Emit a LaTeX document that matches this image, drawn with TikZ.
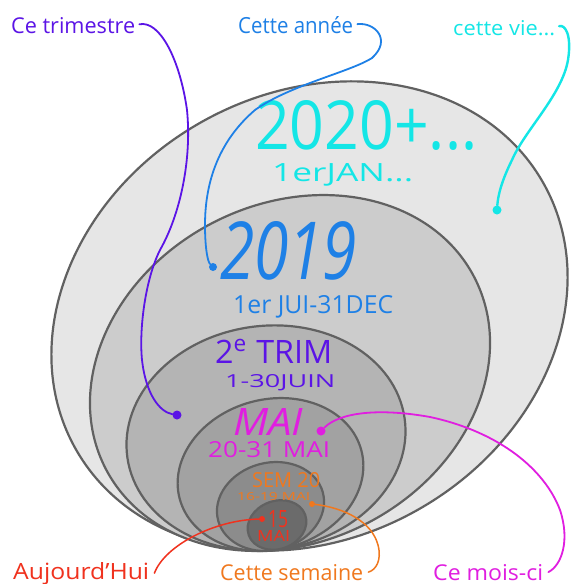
\documentclass[tikz,border=0pt]{standalone}
\usepackage{fontspec}
\setmainfont{Open Sans}
\definecolor{cPur}{HTML}{5B14E6}
\definecolor{cBlu}{HTML}{1E80E6}
\definecolor{cCya}{HTML}{14E6E6}
\definecolor{cMag}{HTML}{E01EE0}
\definecolor{cOra}{HTML}{F0781E}
\definecolor{cRed}{HTML}{F0321E}
\definecolor{cEdge}{HTML}{616161}
\definecolor{gA}{HTML}{E6E6E6}
\definecolor{gB}{HTML}{CCCCCC}
\definecolor{gC}{HTML}{B4B4B4}
\definecolor{gD}{HTML}{A2A2A2}
\definecolor{gE}{HTML}{8C8C8C}
\definecolor{gF}{HTML}{6B6B6B}
\newcommand{\fitbox}[3]{\resizebox{#1pt}{#2pt}{#3}}
\begin{document}
\begin{tikzpicture}[x=1pt,y=-1pt,
  ring/.style={draw=cEdge, line width=2.2pt},
  lbl/.style={anchor=base west, inner sep=0pt},
  dotn/.style={circle, inner sep=0pt, minimum size=#1},
  lead/.style={line width=1.8pt, line cap=round}]
\useasboundingbox[fill=white] (0,0) rectangle (571,584);

% nested ellipses
\draw[ring, fill=gA, rotate around={30:(309.5,316)}] (309.5,316) ellipse [x radius=269, y radius=222];
\draw[ring, fill=gB, rotate around={27.6:(290,373)}] (290,373) ellipse [x radius=207.7, y radius=168.9];
\draw[ring, fill=gC, rotate around={8:(266,438)}] (266,438) ellipse [x radius=140, y radius=112];
\draw[ring, fill=gD, rotate around={15:(270.5,474.5)}] (270.5,474.5) ellipse [x radius=94, y radius=75];
\draw[ring, fill=gE, rotate around={15:(270.5,506.5)}] (270.5,506.5) ellipse [x radius=54.2, y radius=43.7];
\draw[ring, fill=gF, rotate around={20:(277,525)}] (277,525) ellipse [x radius=30, y radius=24];

% texts inside
\node[lbl, text=cCya] (t2020) at (255,149) {\fitbox{222}{49}{2020+...}};
\node[lbl, text=cCya] (tJan) at (272,181) {\fitbox{141}{18}{1erJAN...}};
\node[lbl, text=cBlu] (t2019) at (220,279) {\fitbox{137}{58}{\itshape 2019}};
\node[lbl, text=cBlu] (tJui) at (233,313) {\fitbox{160}{18}{1er JUI-31DEC}};
\node[lbl, text=cPur] (tTrim) at (215,363) {\fitbox{117}{24}{2\textsuperscript{e} TRIM}};
\node[lbl, text=cPur] (tJuin) at (225,387) {\fitbox{110}{13}{1-30JUIN}};
\node[lbl, text=cMag] (tMai) at (233,435) {\fitbox{70}{27}{\itshape MAI}};
\node[lbl, text=cMag] (tMai2) at (208,457) {\fitbox{122}{16}{20-31 MAI}};
\node[lbl, text=cOra] (tSem) at (252,487) {\fitbox{68}{15}{SEM 20}};
\node[lbl, text=cOra] (tSem2) at (237,500) {\fitbox{73}{8}{16-19 MAI}};
\node[lbl, text=cRed] (t15) at (268,527) {\fitbox{20}{17}{15}};
\node[lbl, text=cRed] (tMai3) at (257,541) {\fitbox{33}{11}{MAI}};

% labels
\node[lbl, text=cPur] (lTri) at (11,33) {\fitbox{124}{16}{Ce trimestre}};
\node[lbl, text=cBlu] (lYear) at (238,33) {\fitbox{115}{17}{Cette année}};
\node[lbl, text=cCya] (lLife) at (453,35) {\fitbox{102}{15}{cette vie...}};
\node[lbl, text=cRed] (lToday) at (13,579) {\fitbox{136}{17}{Aujourd'Hui}};
\node[lbl, text=cOra] (lWeek) at (220,580) {\fitbox{143}{16}{Cette semaine}};
\node[lbl, text=cMag] (lMonth) at (433,580) {\fitbox{110}{16}{Ce mois-ci}};

% dots
\node[dotn=9pt, fill=cPur] (dP) at (177,415) {};
\node[dotn=8pt, fill=cBlu] (dB) at (213,267) {};
\node[dotn=9pt, fill=cCya] (dC) at (497,210) {};
\node[dotn=9pt, fill=cMag] (dM) at (321,431) {};
\node[dotn=6pt, fill=cOra] (dS) at (312,504) {};
\node[dotn=6pt, fill=cRed] (dR) at (262,519) {};

% leaders
\draw[lead, cPur, shorten <=4pt] (lTri.east) .. controls (160,20) and (180,60) .. (187,110)
  .. controls (192,160) and (180,215) .. (160,250)
  .. controls (145,280) and (139,330) .. (142,360)
  .. controls (146,395) and (160,412) .. (dP);
\draw[lead, cBlu, shorten <=4pt] (lYear.east) .. controls (375,22) and (392,40) .. (372,58)
  .. controls (350,72) and (290,85) .. (255,110)
  .. controls (220,140) and (205,180) .. (205,225)
  .. controls (205,250) and (208,262) .. (dB);
\draw[lead, cCya, line width=2.4pt, shorten <=4pt] (lLife.east) .. controls (565,24) and (572,35) .. (568,60)
  .. controls (562,95) and (525,130) .. (512,160)
  .. controls (502,180) and (498,195) .. (dC);
\draw[lead, cMag] (dM) .. controls (340,412) and (380,408) .. (430,417)
  .. controls (500,432) and (545,470) .. (560,510)
  .. controls (570,540) and (562,565) .. ([xshift=5pt]lMonth.east);
\draw[lead, cOra, line width=1.5pt] (dS) .. controls (345,508) and (372,522) .. (378,545)
  .. controls (382,560) and (376,570) .. ([xshift=5pt]lWeek.east);
\draw[lead, cRed, line width=1.5pt] (dR) .. controls (215,520) and (165,545) .. ([xshift=5pt]lToday.east);
\end{tikzpicture}
\end{document}
